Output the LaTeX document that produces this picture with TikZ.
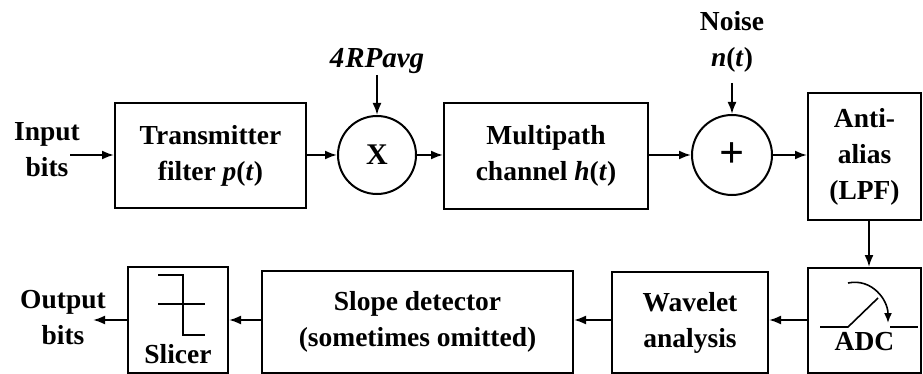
\documentclass[tikz,border=0pt]{standalone}
\usepackage{fontspec}
\setmainfont{Liberation Serif}
\usetikzlibrary{arrows.meta}
\tikzset{
  blk/.style={draw, line width=2pt, rectangle, align=center, inner sep=0pt},
  junc/.style={draw, line width=2pt, circle, inner sep=0pt, minimum size=78pt},
  lbl/.style={align=center, inner sep=0pt},
  flow/.style={line width=2pt, -{Latex[length=12pt,width=9pt]}},
  sym/.style={line width=1.6pt},
}
\begin{document}
\begin{tikzpicture}[x=1pt, y=-1pt,
  every node/.style={font=\fontsize{27.5}{36}\selectfont\bfseries}]
\useasboundingbox (0,0) rectangle (923,374);

% top row
\node[lbl] (in) at (47,150) {Input\\bits};
\coordinate (inend) at (70,155);
\node[blk, minimum width=191pt, minimum height=105pt] (tx) at (210.5,155.5)
  {Transmitter\\filter \textit{p}(\textit{t})};
\node[junc, font=\fontsize{30}{36}\selectfont\bfseries] (mul) at (377,155) {X};
\node[lbl, font=\fontsize{29}{36}\selectfont\bfseries\itshape] (gain) at (377,61) {4\kern1ptRPavg};
\coordinate (gainend) at (377,75);
\node[blk, minimum width=204pt, minimum height=106pt] (ch) at (546,156)
  {Multipath\\channel \textit{h}(\textit{t})};
\node[junc, minimum size=80pt, font=\fontsize{44}{44}\selectfont\bfseries] (add) at (732,155) {+};
\node[lbl] (noise) at (732,42) {Noise\\\textit{n}(\textit{t})};
\coordinate (noiseend) at (732,83);
\node[blk, minimum width=113pt, minimum height=127pt] (aa) at (864.5,156.5)
  {Anti-\\alias\\(LPF)};

% bottom row
\node[blk, minimum width=113pt, minimum height=105pt] (adc) at (864.5,320.5) {};
\node[lbl] (adctxt) at (864.5,342) {ADC};
\node[blk, minimum width=156pt, minimum height=101pt] (wav) at (690,322.5)
  {Wavelet\\analysis};
\node[blk, minimum width=311pt, minimum height=102pt] (slope) at (417.5,322)
  {Slope detector\\(sometimes omitted)};
\node[blk, minimum width=100pt, minimum height=106pt] (slc) at (178,320) {};
\node[lbl] (slctxt) at (178,354) {Slicer};
\node[lbl] (out) at (63,318) {Output\\bits};
\coordinate (outend) at (93,320);

% connectors
\draw[flow] (inend) -- (tx.west |- inend);
\draw[flow] (tx.east |- mul) -- (mul.west);
\draw[flow] (gainend) -- (mul.north);
\draw[flow] (mul.east) -- (ch.west |- mul);
\draw[flow] (ch.east |- add) -- (add.west);
\draw[flow] (noiseend) -- (add.north);
\draw[flow] (add.east) -- (aa.west |- add);
\draw[flow] (aa.south -| 869,0) -- (adc.north -| 869,0);
\draw[flow] (adc.west |- 0,320) -- (wav.east |- 0,320);
\draw[flow] (wav.west |- 0,320) -- (slope.east |- 0,320);
\draw[flow] (slope.west |- 0,320) -- (slc.east |- 0,320);
\draw[flow] (slc.west |- 0,320) -- (outend);

% slicer characteristic
\draw[sym] (158,275) -- (183,275) -- (183,335) -- (205,335);
\draw[sym] (158,304) -- (205,304);

% sampling switch of the ADC
\draw[sym] (820,327) -- (848,327) -- (878,298);
\draw[sym] (890,327) -- (918,327);
\draw[sym, -{Latex[length=10pt,width=8pt]}] (848,283) .. controls (872,278) and (888,300) .. (888,323);
\end{tikzpicture}
\end{document}
